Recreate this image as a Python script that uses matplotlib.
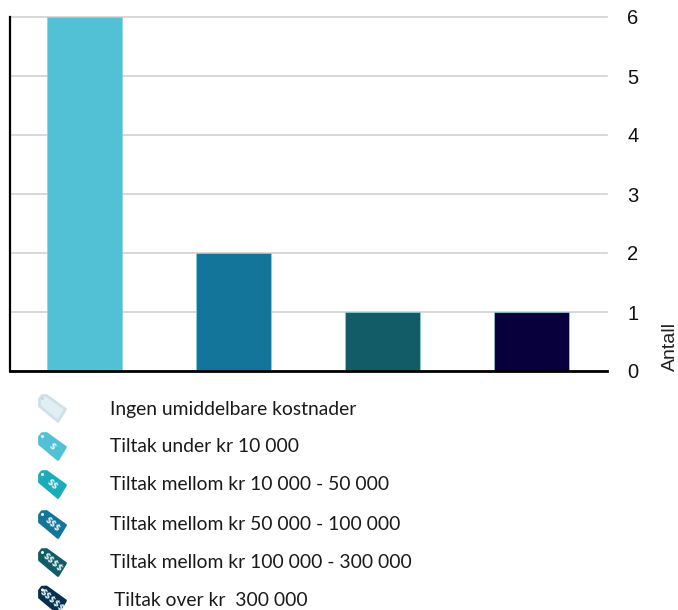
import matplotlib.pyplot as plt
from matplotlib.patches import Circle, Polygon

W, H = 678, 610

# bars
positions = [0, 1, 2, 3]
counts = [6, 2, 1, 1]
bar_colors = ['#52c1d5', '#127599', '#125c68', '#07003d']
y_ticks = [0, 1, 2, 3, 4, 5, 6]
y_name = 'Antall'

# legend rows
legend_labels = [
    'Ingen umiddelbare kostnader',
    'Tiltak under kr 10 000',
    'Tiltak mellom kr 10 000 - 50 000',
    'Tiltak mellom kr 50 000 - 100 000',
    'Tiltak mellom kr 100 000 - 300 000',
    'Tiltak over kr  300 000',
]
legend_signs = ['', '$', '$$', '$$$', '$$$$', '$$$$$']
legend_colors = ['#e1eff5', '#52c1d5', '#1aacba', '#127599', '#125c68', '#05304f']
legend_y = [408.5, 446.5, 484.5, 524.5, 562.5, 600]
legend_x = [110, 110, 110, 110, 110, 114]

# outline of a price tag around its centre, in pixels
tag_shape = [(-13, -9.5), (-10.5, -12.8), (-6, -13), (13, 0.7), (5.5, 13), (-13, -2.5)]

fig = plt.figure(figsize=(W / 100, H / 100), dpi=100)
ax = fig.add_axes([10 / W, 1 - 371 / H, 597 / W, 354 / H])

ax.bar(positions, counts, width=0.505, color=bar_colors, edgecolor='#8fd0e0',
       linewidth=0.5, zorder=3)
ax.set_xlim(-0.5, 3.507)
ax.set_ylim(0, 6)
ax.set_xticks([])
ax.set_yticks(y_ticks)
ax.yaxis.tick_right()
ax.tick_params(axis='y', length=0, pad=18.5, labelsize=14.5, labelcolor='#111111')
for lab in ax.get_yticklabels():
    lab.set_fontfamily('Liberation Sans')
    lab.set_horizontalalignment('center')
ax.grid(axis='y', color='#d2d2d2', linewidth=1.2, zorder=0, clip_on=False)
ax.set_axisbelow(True)
ax.spines['top'].set_visible(False)
ax.spines['right'].set_visible(False)
ax.spines['left'].set_linewidth(1.6)
ax.spines['bottom'].set_linewidth(2)
for s in ax.spines.values():
    s.set_zorder(4)

# overlay in pixel coordinates for the legend and the axis name
over = fig.add_axes([0, 0, 1, 1])
over.set_xlim(0, W)
over.set_ylim(H, 0)
over.axis('off')
over.patch.set_visible(False)

over.text(670.5, 371, y_name, rotation=90, ha='center', va='bottom',
          family='Liberation Sans', fontsize=14, color='#222222')

for label, sign, col, y, x in zip(legend_labels, legend_signs, legend_colors, legend_y, legend_x):
    cx = 52.5
    pts = [(cx + dx, y + dy) for dx, dy in tag_shape]
    edge = '#cfe0e6' if sign == '' else col
    over.add_patch(Polygon(pts, closed=True, facecolor=col, edgecolor=edge,
                           linewidth=2, joinstyle='round', clip_on=False))
    over.add_patch(Circle((cx - 10, y - 10), 1.5,
                          facecolor='#c4d5dc' if sign == '' else 'white', edgecolor='none'))
    if sign:
        # escaped so the dollar signs stay plain text
        over.text(cx - 0.5, y, sign.replace('$', r'\$'), rotation=-42, rotation_mode='anchor',
                  ha='center', va='center', color='#e8f4f7', fontsize=6, fontweight='bold')
    over.text(x, y + 0.5, label, ha='left', va='center', family='Lato',
              fontsize=13.9, color='#1a1a1a')

fig.savefig('out.png', dpi=100)
